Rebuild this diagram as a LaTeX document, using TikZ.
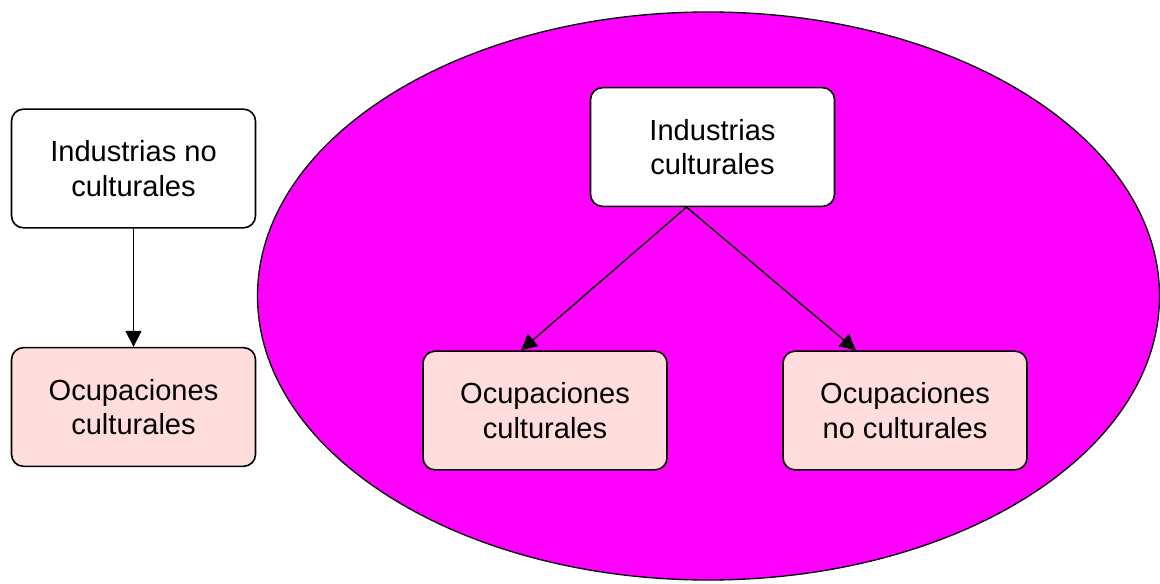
\documentclass[tikz,border=0pt]{standalone}
\usepackage{fontspec}
\setmainfont{Liberation Sans}
\usetikzlibrary{arrows.meta}
\definecolor{pinkbox}{HTML}{FFDDDD}
\definecolor{mag}{HTML}{FF00FF}
\begin{document}
\begin{tikzpicture}[x=0.75pt,y=-0.75pt,
  box/.style={draw=black,line width=1.2pt,rounded corners=9pt,minimum width=183pt,minimum height=89pt,align=center,font=\fontsize{21.8pt}{26pt}\selectfont,inner sep=0pt},
  whitebox/.style={box,fill=white},
  pbox/.style={box,fill=pinkbox},
  arr/.style={line width=1.1pt,-{Triangle[length=12pt,width=12pt]}}]
\useasboundingbox (0,0) rectangle (1160,584);
\fill[white] (0,0) rectangle (1160,584);
\draw[fill=mag,line width=1pt] (708.5,296) ellipse [x radius=451,y radius=284];
\node[whitebox] (inc) at (133.5,168.5) {Industrias no\\culturales};
\node[pbox] (oc1) at (133.5,407) {Ocupaciones\\culturales};
\node[whitebox] (ic) at (712.5,147) {Industrias\\culturales};
\node[pbox] (oc2) at (545,410.5) {Ocupaciones\\culturales};
\node[pbox] (onc) at (905,410.5) {Ocupaciones\\no culturales};
\draw[arr] (inc.south) -- (oc1.north);
\draw[arr] ([xshift=-19.5pt]ic.south) -- ([xshift=-18pt]oc2.north);
\draw[arr] ([xshift=-19.5pt]ic.south) -- ([xshift=-36.75pt]onc.north);
\end{tikzpicture}
\end{document}
